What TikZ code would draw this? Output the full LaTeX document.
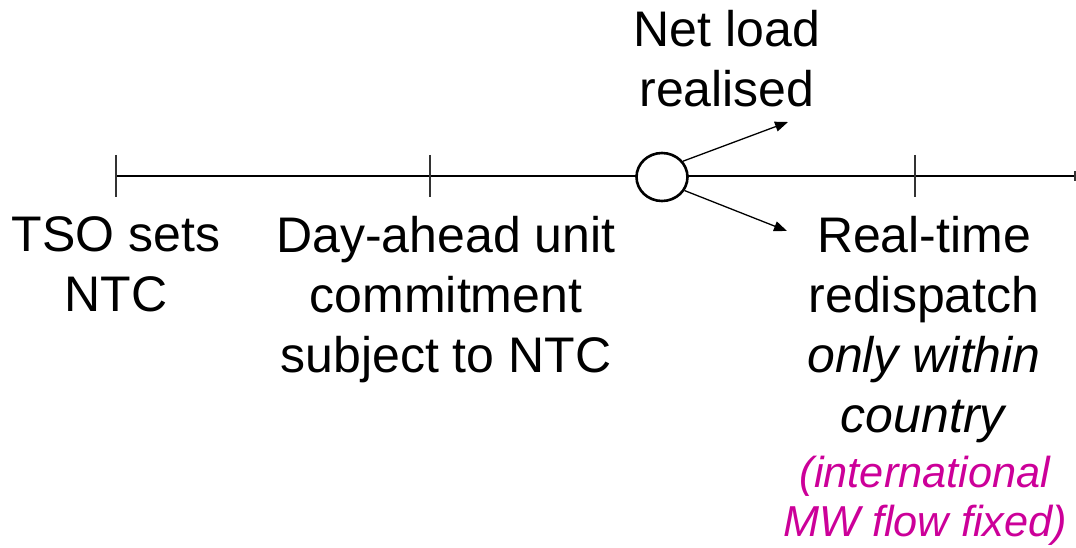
\documentclass[tikz,border=0pt]{standalone}
\usepackage{fontspec}
\setmainfont{Liberation Sans}
\usetikzlibrary{arrows.meta,shapes.geometric}
\definecolor{magentatxt}{RGB}{204,0,153}
\tikzset{
  lbl/.style={anchor=north,inner sep=0pt,align=center,font=\fontsize{50}{60}\selectfont},
  lblm/.style={anchor=north,inner sep=0pt,align=center,text=magentatxt,font=\fontsize{43.3}{49}\selectfont\itshape},
  axis/.style={line width=1.8pt},
  tickmark/.style={line width=1.8pt,draw=black!80},
  arr/.style={line width=1.3pt,-{Triangle[length=13pt,width=10pt]}},
  evt/.style={ellipse,draw,line width=2.6pt,fill=white,minimum width=51pt,minimum height=48pt,inner sep=0pt}
}
\begin{document}
\begin{tikzpicture}[x=1pt,y=-1pt]
\useasboundingbox (0,0) rectangle (1076,548);
\coordinate (t1) at (116,176);
\coordinate (t2) at (430,176);
\coordinate (t3) at (915,176);
\coordinate (tend) at (1075,176);
\draw[axis] (t1) -- (tend);
\foreach \t in {t1,t2,t3}{
  \draw[tickmark] ([yshift=21pt]\t) -- ([yshift=-21pt]\t);
}
\draw[tickmark] ([yshift=5pt]tend) -- ([yshift=-5pt]tend);
\node[evt] (circ) at (662,177) {};
\coordinate (upend) at (788,122);
\coordinate (downend) at (787,231);
\draw[arr] (circ.37) -- (upend);
\draw[arr] (circ.-31) -- (downend);
\node[lbl] (tso) at (116,216.5) {TSO sets\\NTC};
\node[lbl] (da) at (446,216.5) {Day-ahead unit\\commitment\\subject to NTC};
\node[lbl] (net) at (727,10.5) {Net load\\realised};
\node[lbl] (rt) at (924,216.5) {Real-time\\redispatch\\\textit{only within}\\\textit{country}};
\node[lblm] (rtm) at (925,456) {(international\\MW flow fixed)};
\end{tikzpicture}
\end{document}
